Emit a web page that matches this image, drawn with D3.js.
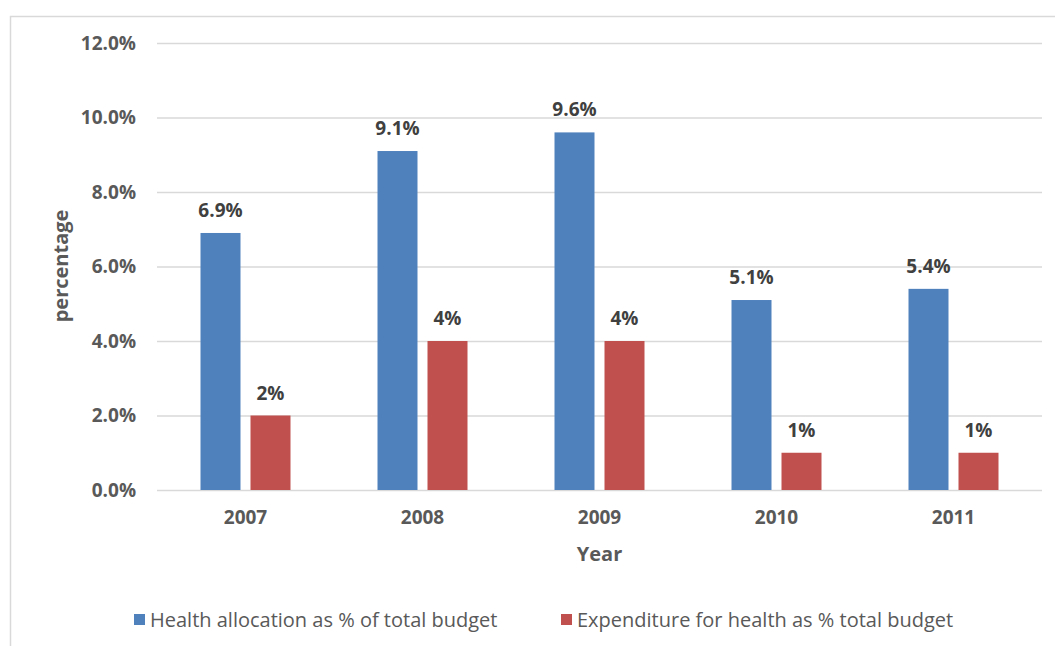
<!DOCTYPE html>
<html>
<head>
<meta charset="utf-8">
<script src="https://cdn.jsdelivr.net/npm/d3@7"></script>
<style>
  body { margin: 0; background: #fff; }
  text { font-family: "Open Sans", "DejaVu Sans", sans-serif; }
</style>
</head>
<body>
<div class="container"></div>
<script>
const WIDTH = 1055;
const HEIGHT = 646;

const years = ["2007", "2008", "2009", "2010", "2011"];
const allocation = [6.9, 9.1, 9.6, 5.1, 5.4];
const expenditure = [2, 4, 4, 1, 1];
const allocationLabels = ["6.9%", "9.1%", "9.6%", "5.1%", "5.4%"];
const expenditureLabels = ["2%", "4%", "4%", "1%", "1%"];
const seriesNames = ["Health allocation as % of total budget", "Expenditure for health as % total budget"];
const yTicks = [0, 2, 4, 6, 8, 10, 12];

const COLORS = ["#4f81bd", "#c0504d"];
const PLOT = { left: 157, right: 1042, top: 43, bottom: 490 };

const xScale = d3.scaleBand()
    .domain(years)
    .range([PLOT.left, PLOT.right]);

const yScale = d3.scaleLinear()
    .domain([0, 12])
    .range([PLOT.bottom, PLOT.top]);

const translate = function(x, y) {
    return "translate(" + x + "," + y + ")";
};

const svg = d3.select('.container').append('svg')
    .attr('width', WIDTH)
    .attr('height', HEIGHT);

// outer chart border
svg.append('rect')
    .attr('x', 10.5).attr('y', 16.5)
    .attr('width', WIDTH).attr('height', HEIGHT)
    .attr('fill', 'none')
    .attr('stroke', '#d9d9d9')
    .attr('stroke-width', 1.5);

// gridlines + y labels
const yAxis = d3.axisLeft(yScale)
    .tickValues(yTicks)
    .tickSize(-(PLOT.right - PLOT.left))
    .tickPadding(21)
    .tickFormat(d => d.toFixed(1) + "%");

const yG = svg.append('g')
    .attr('transform', translate(PLOT.left, 0))
    .call(yAxis);
yG.select('.domain').remove();
yG.selectAll('line').attr('stroke', '#d9d9d9').attr('stroke-width', 1.5);
yG.selectAll('text')
    .attr('fill', '#595959')
    .style('font-size', '19px')
    .style('font-weight', 'bold');

// x axis labels
const xAxis = d3.axisBottom(xScale).tickSize(0).tickPadding(21);
const xG = svg.append('g')
    .attr('transform', translate(0, PLOT.bottom))
    .call(xAxis);
xG.select('.domain').remove();
xG.selectAll('text')
    .attr('fill', '#595959')
    .style('font-size', '19px')
    .style('font-weight', 'bold');

// bars
const BAR_W = 40;
const GAP = 10;
const series = [allocation, expenditure];
const labels = [allocationLabels, expenditureLabels];

series.forEach(function(values, s) {
    const offset = s === 0 ? -(BAR_W + GAP / 2) : GAP / 2;
    const g = svg.append('g');
    g.selectAll('rect')
        .data(values)
        .enter()
        .append('rect')
        .attr('x', (d, i) => xScale(years[i]) + xScale.bandwidth() / 2 + offset)
        .attr('y', d => yScale(d))
        .attr('width', BAR_W)
        .attr('height', d => yScale(0) - yScale(d))
        .attr('fill', COLORS[s]);

    g.selectAll('text')
        .data(values)
        .enter()
        .append('text')
        .attr('x', (d, i) => xScale(years[i]) + xScale.bandwidth() / 2 + offset + BAR_W / 2)
        .attr('y', d => yScale(d) - 16)
        .attr('text-anchor', 'middle')
        .attr('fill', '#404040')
        .style('font-size', '19px')
        .style('font-weight', 'bold')
        .text((d, i) => labels[s][i]);
});

// axis titles
svg.append('text')
    .attr('transform', translate(68, 266) + " rotate(-90)")
    .attr('text-anchor', 'middle')
    .attr('fill', '#595959')
    .style('font-size', '20px')
    .style('font-weight', 'bold')
    .text('percentage');

svg.append('text')
    .attr('x', (PLOT.left + PLOT.right) / 2)
    .attr('y', 561)
    .attr('text-anchor', 'middle')
    .attr('fill', '#595959')
    .style('font-size', '20px')
    .style('font-weight', 'bold')
    .text('Year');

// legend
const legendX = [134, 561];
const legend = svg.append('g');
seriesNames.forEach(function(name, s) {
    legend.append('rect')
        .attr('x', legendX[s]).attr('y', 614)
        .attr('width', 11).attr('height', 11)
        .attr('fill', COLORS[s]);
    legend.append('text')
        .attr('x', legendX[s] + 16)
        .attr('y', 627)
        .attr('fill', '#595959')
        .style('font-size', '20px')
        .text(name);
});
</script>
</body>
</html>
